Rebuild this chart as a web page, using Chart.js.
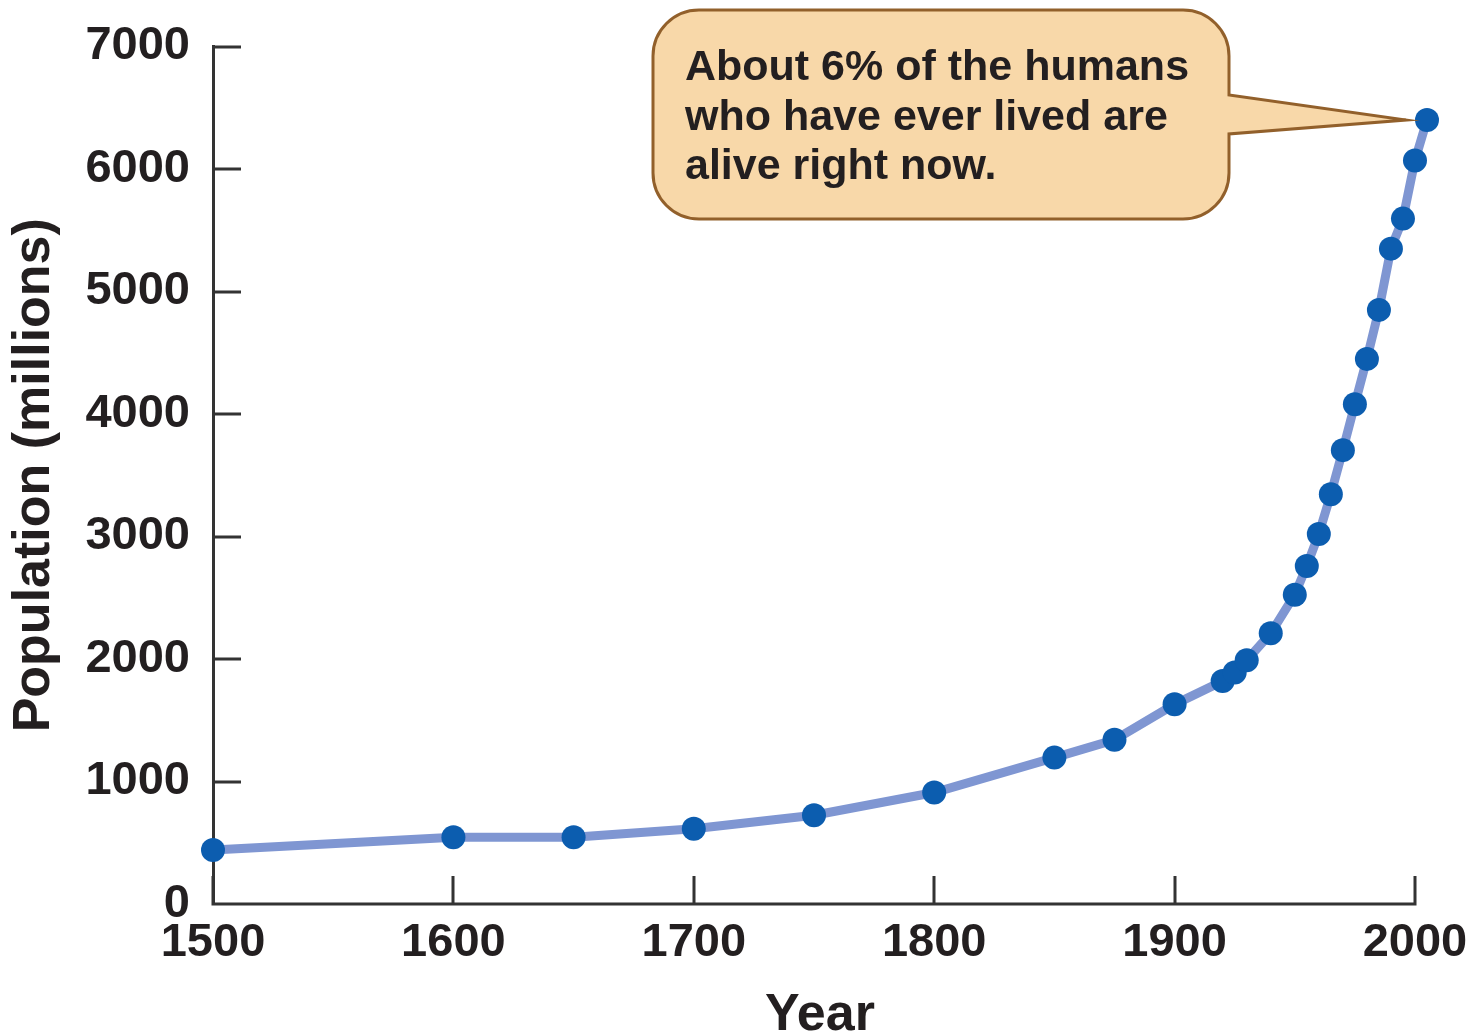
<!DOCTYPE html>
<html>
<head>
<meta charset="utf-8">
<script src="https://cdn.jsdelivr.net/npm/chart.js@4.4.1/dist/chart.umd.min.js"></script>
<style>
  html, body { margin: 0; padding: 0; background: #fff; }
  #wrap { width: 1476px; height: 1031px; }
</style>
</head>
<body>
<div id="wrap"><canvas id="chart" width="1476" height="1031"></canvas></div>
<script>
// world population estimates (millions)
const years = [1500, 1600, 1650, 1700, 1750, 1800, 1850, 1875, 1900, 1920, 1925, 1930,
  1940, 1950, 1955, 1960, 1965, 1970, 1975, 1980, 1985, 1990, 1995, 2000, 2005];
const population = [440, 545, 545, 615, 725, 910, 1195, 1340, 1630, 1820, 1890, 1990,
  2210, 2525, 2760, 3020, 3345, 3705, 4080, 4450, 4850, 5350, 5595, 6070, 6400];

const xTicks = [1500, 1600, 1700, 1800, 1900, 2000];
const yTicks = [0, 1000, 2000, 3000, 4000, 5000, 6000, 7000];

const calloutLines = [
  'About 6% of the humans',
  'who have ever lived are',
  'alive right now.'
];

const FONT = '"Liberation Sans", Arial, Helvetica, sans-serif';
const INK = '#231f20';
const AXIS = '#333333';

// x axis line (stops at the last tick) and short inward tick marks
const innerTicks = {
  id: 'innerTicks',
  beforeDatasetsDraw(chart) {
    const { ctx, scales: { x, y } } = chart;
    const len = 28;
    const x0 = x.getPixelForValue(xTicks[0]);
    const x1 = Math.round(x.getPixelForValue(xTicks[xTicks.length - 1]));
    ctx.save();
    ctx.strokeStyle = AXIS;
    ctx.lineWidth = 3;
    ctx.beginPath();
    ctx.moveTo(x0 - 1.5, y.bottom);
    ctx.lineTo(x1 + 1.5, y.bottom);
    yTicks.forEach(v => {
      const py = Math.round(y.getPixelForValue(v));
      ctx.moveTo(x0, py);
      ctx.lineTo(x0 + len, py);
    });
    xTicks.forEach(v => {
      const px = Math.round(x.getPixelForValue(v));
      ctx.moveTo(px, y.bottom);
      ctx.lineTo(px, y.bottom - len);
    });
    ctx.stroke();
    ctx.restore();
  }
};

// speech bubble pointing at the latest point
const callout = {
  id: 'callout',
  afterDatasetsDraw(chart) {
    const { ctx } = chart;
    const last = chart.getDatasetMeta(0).data[years.length - 1];
    const tipX = last.x - 21;
    const tipY = last.y;
    const right = tipX - 177;
    const left = right - 576;
    const top = 10;
    const bottom = 219;
    const r = 46;

    ctx.save();
    ctx.beginPath();
    ctx.moveTo(left + r, top);
    ctx.lineTo(right - r, top);
    ctx.arcTo(right, top, right, top + r, r);
    ctx.lineTo(right, tipY - 25);
    ctx.lineTo(tipX, tipY);
    ctx.lineTo(right, tipY + 14);
    ctx.lineTo(right, bottom - r);
    ctx.arcTo(right, bottom, right - r, bottom, r);
    ctx.lineTo(left + r, bottom);
    ctx.arcTo(left, bottom, left, bottom - r, r);
    ctx.lineTo(left, top + r);
    ctx.arcTo(left, top, left + r, top, r);
    ctx.closePath();
    ctx.fillStyle = '#f8d8a9';
    ctx.fill();
    ctx.lineWidth = 3;
    ctx.strokeStyle = '#92602b';
    ctx.stroke();

    ctx.fillStyle = INK;
    ctx.font = 'bold 43px ' + FONT;
    ctx.textBaseline = 'alphabetic';
    ctx.textAlign = 'left';
    calloutLines.forEach((t, i) => {
      ctx.fillText(t, left + 32, 80 + i * 49.5);
    });
    ctx.restore();
  }
};

new Chart(document.getElementById('chart'), {
  type: 'line',
  data: {
    datasets: [{
      data: years.map((yr, i) => ({ x: yr, y: population[i] })),
      borderColor: '#7f96d2',
      borderWidth: 9,
      pointRadius: 12,
      pointBackgroundColor: '#0c5daf',
      pointBorderColor: '#0c5daf',
      pointBorderWidth: 0,
      tension: 0,
      clip: false
    }]
  },
  options: {
    responsive: false,
    animation: false,
    layout: { padding: { top: 42, right: 49, bottom: 0, left: 0 } },
    plugins: {
      legend: { display: false },
      tooltip: { enabled: false }
    },
    scales: {
      x: {
        type: 'linear',
        min: 1500,
        max: 2005,
        afterBuildTicks: s => { s.ticks = xTicks.map(v => ({ value: v })); },
        afterFit: s => { s.height = 127; },
        grid: { display: true, drawOnChartArea: false, drawTicks: false },
        border: { display: false },
        ticks: {
          padding: 8,
          color: INK,
          font: { family: FONT, size: 47, weight: 'bold', lineHeight: 1.3 },
          callback: v => String(v)
        },
        title: {
          display: true,
          text: 'Year',
          color: INK,
          font: { family: FONT, size: 52, weight: 'bold', lineHeight: 0.6 },
          padding: { top: 23, bottom: 0 }
        }
      },
      y: {
        min: 0,
        max: 7000,
        afterBuildTicks: s => { s.ticks = yTicks.map(v => ({ value: v })); },
        afterFit: s => { s.width = 213; },
        grid: { display: true, drawOnChartArea: false, drawTicks: false },
        border: { display: true, color: AXIS, width: 3 },
        ticks: {
          padding: 23,
          color: INK,
          font: { family: FONT, size: 47, weight: 'bold', lineHeight: 1 },
          callback: v => String(v)
        },
        title: {
          display: true,
          text: 'Population (millions)',
          color: INK,
          font: { family: FONT, size: 52, weight: 'bold', lineHeight: 1 },
          padding: { top: 9, bottom: 23 }
        }
      }
    }
  },
  plugins: [innerTicks, callout]
});
</script>
</body>
</html>
